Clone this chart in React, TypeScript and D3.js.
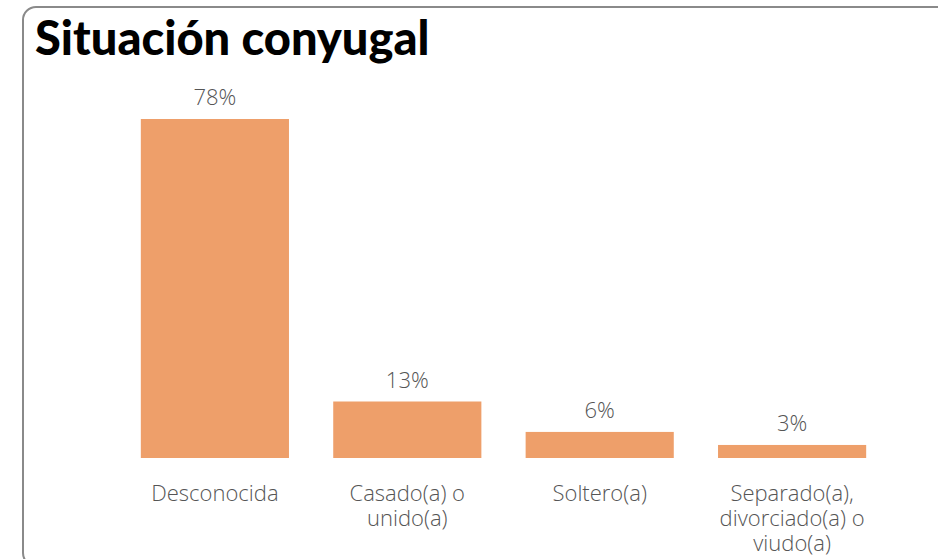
import { useMemo } from "react";
import * as d3 from "d3";

const WIDTH = 938;
const HEIGHT = 559;

// chart data
const categories = [
  ["Desconocida"],
  ["Casado(a) o", "unido(a)"],
  ["Soltero(a)"],
  ["Separado(a),", "divorciado(a) o", "viudo(a)"],
];
const values = [78, 13, 6, 3];
const valueLabels = ["78%", "13%", "6%", "3%"];

const TITLE = "Situación conyugal";
const BAR_COLOR = "#EE9F6A";
const TEXT_COLOR = "#555555";

export default function App() {
  // x scale: one band per category
  const keys = categories.map((c) => c.join(" "));
  const xScale = useMemo(
    () =>
      d3
        .scaleBand()
        .domain(keys)
        .range([118.7, 888.3])
        .paddingInner(0.23)
        .paddingOuter(0.115),
    [keys.join("|")]
  );

  // y scale: baseline at 458, biggest bar up to 119
  const yScale = d3.scaleLinear().domain([0, d3.max(values)]).range([458, 119]);

  const bars = values.map((v, i) => {
    const x = xScale(keys[i]);
    const cx = x + xScale.bandwidth() / 2;
    return (
      <g key={keys[i]}>
        <rect
          x={x}
          y={yScale(v)}
          width={xScale.bandwidth()}
          height={yScale(0) - yScale(v)}
          fill={BAR_COLOR}
        />
        <text
          x={cx}
          y={yScale(v) - 14}
          textAnchor="middle"
          fontSize={22}
          fontWeight={300}
          fill={TEXT_COLOR}
        >
          {valueLabels[i]}
        </text>
        <text
          x={cx}
          y={501}
          textAnchor="middle"
          fontSize={22}
          fontWeight={300}
          fill={TEXT_COLOR}
        >
          {categories[i].map((line, j) => (
            <tspan key={j} x={cx} dy={j === 0 ? 0 : 25}>
              {line}
            </tspan>
          ))}
        </text>
      </g>
    );
  });

  return (
    <svg
      width={WIDTH}
      height={HEIGHT}
      style={{ position: "absolute", left: 0, top: 0, fontFamily: "'Open Sans', sans-serif" }}
    >
      <rect x={0} y={0} width={WIDTH} height={HEIGHT} fill="#ffffff" />
      {/* card frame, runs off the right and bottom edges */}
      <rect
        x={23}
        y={7}
        width={WIDTH}
        height={HEIGHT}
        rx={13}
        fill="none"
        stroke="#8a8a8a"
        strokeWidth={2}
      />
      <text
        x={35}
        y={55}
        fontSize={47}
        fontWeight={900}
        fontFamily="Lato, sans-serif"
        fill="#000000"
      >
        {TITLE}
      </text>
      {bars}
    </svg>
  );
}
